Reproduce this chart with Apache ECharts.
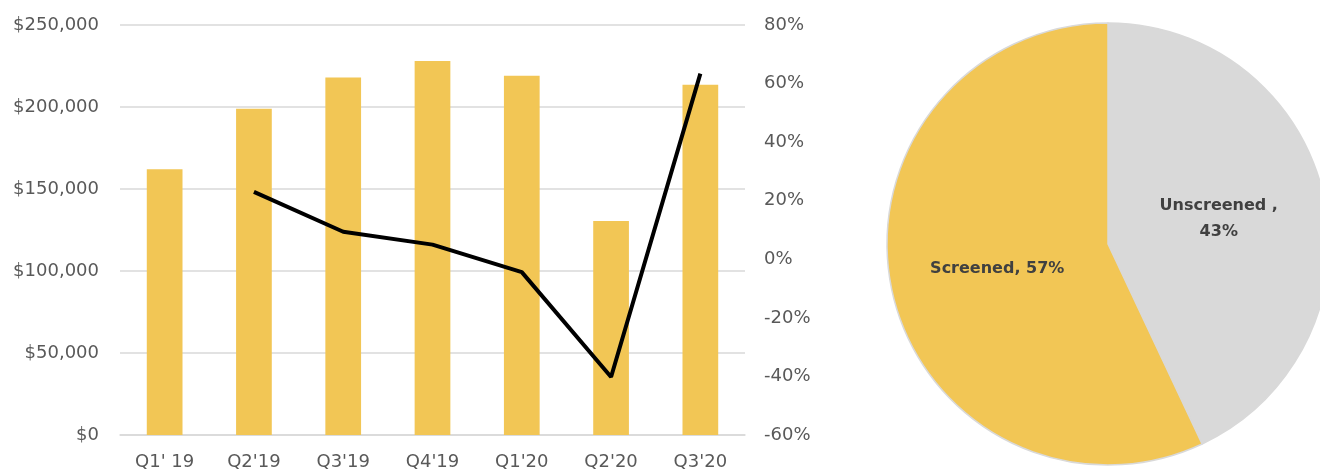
<!DOCTYPE html>
<html>
<head>
<meta charset="utf-8">
<script src="https://cdn.jsdelivr.net/npm/echarts@6/dist/echarts.min.js"></script>
<style>
html,body{margin:0;padding:0;background:#fff;}
#chart{width:1320px;height:474px;}
</style>
</head>
<body>
<div id="chart"></div>
<script>
var categories = ["Q1' 19", "Q2'19", "Q3'19", "Q4'19", "Q1'20", "Q2'20", "Q3'20"];
var revenue = [162000, 199000, 218000, 228000, 219000, 130500, 213500];
var growth = [null, 23, 9.4, 5, -4.4, -40.2, 63.4];
var pieNames = ["Unscreened", "Screened"];
var pieValues = [43, 57];

var axisFont = 'DejaVu Sans';
var chart = echarts.init(document.getElementById('chart'));
chart.setOption({
  animation: false,
  backgroundColor: '#ffffff',
  grid: {left: 120, right: 575, top: 25, bottom: 39, containLabel: false},
  xAxis: {
    type: 'category',
    data: categories,
    axisLine: {lineStyle: {color: '#d9d9d9', width: 1.5}},
    axisTick: {show: false},
    axisLabel: {color: '#595959', fontFamily: axisFont, fontSize: 18, margin: 18}
  },
  yAxis: [{
    type: 'value', min: 0, max: 250000, interval: 50000,
    axisLine: {show: false}, axisTick: {show: false},
    splitLine: {lineStyle: {color: '#d9d9d9', width: 1.5}},
    axisLabel: {color: '#595959', fontFamily: axisFont, fontSize: 18, margin: 21,
      formatter: function (v) { return '$' + v.toLocaleString('en-US'); }}
  }, {
    type: 'value', min: -60, max: 80, interval: 20,
    axisLine: {show: false}, axisTick: {show: false}, splitLine: {show: false},
    axisLabel: {color: '#595959', fontFamily: axisFont, fontSize: 18, margin: 19,
      formatter: '{value}%'}
  }],
  series: [{
    type: 'bar', data: revenue, yAxisIndex: 0, barWidth: '40%',
    itemStyle: {color: '#F2C655'}
  }, {
    type: 'line', data: growth, yAxisIndex: 1, showSymbol: false, symbol: 'none',
    lineStyle: {color: '#000000', width: 4}
  }, {
    type: 'pie', center: [1108, 244], radius: 221, startAngle: 90, clockwise: true,
    label: {position: 'inside', color: '#404040', fontFamily: 'DejaVu Sans', fontWeight: 'bold', fontSize: 16, lineHeight: 26},
    labelLine: {show: false},
    itemStyle: {borderColor: '#d9d9d9', borderWidth: 1.5},
    data: [
      {name: pieNames[0], value: pieValues[0], itemStyle: {color: '#D9D9D9'},
        label: {formatter: '{b} ,\n{d}%'}},
      {name: pieNames[1], value: pieValues[1], itemStyle: {color: '#F2C655'},
        label: {formatter: '{b}, {d}%'}}
    ]
  }]
});
</script>
</body>
</html>
